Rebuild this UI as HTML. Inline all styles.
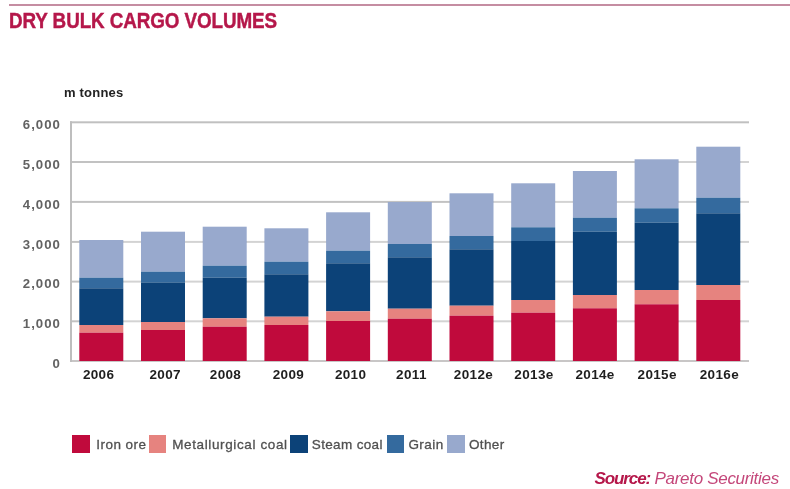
<!DOCTYPE html>
<html><head><meta charset="utf-8"><title>Dry bulk cargo volumes</title>
<style>
html,body{margin:0;padding:0;background:#fff;}
body{width:790px;height:489px;position:relative;overflow:hidden;font-family:"Liberation Sans",sans-serif;}
#w{position:absolute;left:0;top:0;width:790px;height:489px;filter:blur(0.7px);}
.a{position:absolute;}
.t{position:absolute;white-space:nowrap;line-height:1;}
</style></head><body><div id="w">

<div class="a" style="left:9px;top:4px;width:781px;height:2px;background:#c58da2"></div>
<div class="t" style="left:9.3px;top:10px;font-size:22px;font-weight:bold;color:#b5174a;letter-spacing:-0.1px;transform-origin:0 0;transform:scaleX(0.856);-webkit-text-stroke:0.45px #b5174a">DRY BULK CARGO VOLUMES</div>
<div class="t" style="left:64px;top:86px;font-size:13px;font-weight:bold;color:#222;letter-spacing:0.2px">m tonnes</div>
<svg class="a" style="left:0;top:0" width="790" height="489" viewBox="0 0 790 489" shape-rendering="geometricPrecision">
<rect x="70" y="121.3" width="679" height="2" fill="#c0c0c0"/>
<rect x="70" y="161.0" width="679" height="2" fill="#c2c2c2"/>
<rect x="678.6" y="160.0" width="17.7" height="4" fill="#fff" fill-opacity="0.28"/>
<rect x="740.3" y="160.0" width="10.7" height="4" fill="#fff" fill-opacity="0.28"/>
<rect x="70" y="200.9" width="679" height="2" fill="#c2c2c2"/>
<rect x="493.5" y="199.9" width="17.7" height="4" fill="#fff" fill-opacity="0.28"/>
<rect x="555.2" y="199.9" width="17.7" height="4" fill="#fff" fill-opacity="0.28"/>
<rect x="616.9" y="199.9" width="17.7" height="4" fill="#fff" fill-opacity="0.28"/>
<rect x="678.6" y="199.9" width="17.7" height="4" fill="#fff" fill-opacity="0.28"/>
<rect x="740.3" y="199.9" width="10.7" height="4" fill="#fff" fill-opacity="0.28"/>
<rect x="70" y="240.9" width="679" height="2" fill="#c2c2c2"/>
<rect x="123.3" y="239.9" width="17.7" height="4" fill="#fff" fill-opacity="0.28"/>
<rect x="185.0" y="239.9" width="17.7" height="4" fill="#fff" fill-opacity="0.28"/>
<rect x="246.7" y="239.9" width="17.7" height="4" fill="#fff" fill-opacity="0.28"/>
<rect x="308.4" y="239.9" width="17.7" height="4" fill="#fff" fill-opacity="0.28"/>
<rect x="370.1" y="239.9" width="17.7" height="4" fill="#fff" fill-opacity="0.28"/>
<rect x="431.8" y="239.9" width="17.7" height="4" fill="#fff" fill-opacity="0.28"/>
<rect x="493.5" y="239.9" width="17.7" height="4" fill="#fff" fill-opacity="0.28"/>
<rect x="555.2" y="239.9" width="17.7" height="4" fill="#fff" fill-opacity="0.28"/>
<rect x="616.9" y="239.9" width="17.7" height="4" fill="#fff" fill-opacity="0.28"/>
<rect x="678.6" y="239.9" width="17.7" height="4" fill="#fff" fill-opacity="0.28"/>
<rect x="740.3" y="239.9" width="10.7" height="4" fill="#fff" fill-opacity="0.28"/>
<rect x="70" y="280.6" width="679" height="2" fill="#c2c2c2"/>
<rect x="123.3" y="279.6" width="17.7" height="4" fill="#fff" fill-opacity="0.28"/>
<rect x="185.0" y="279.6" width="17.7" height="4" fill="#fff" fill-opacity="0.28"/>
<rect x="246.7" y="279.6" width="17.7" height="4" fill="#fff" fill-opacity="0.28"/>
<rect x="308.4" y="279.6" width="17.7" height="4" fill="#fff" fill-opacity="0.28"/>
<rect x="370.1" y="279.6" width="17.7" height="4" fill="#fff" fill-opacity="0.28"/>
<rect x="431.8" y="279.6" width="17.7" height="4" fill="#fff" fill-opacity="0.28"/>
<rect x="493.5" y="279.6" width="17.7" height="4" fill="#fff" fill-opacity="0.28"/>
<rect x="555.2" y="279.6" width="17.7" height="4" fill="#fff" fill-opacity="0.28"/>
<rect x="616.9" y="279.6" width="17.7" height="4" fill="#fff" fill-opacity="0.28"/>
<rect x="678.6" y="279.6" width="17.7" height="4" fill="#fff" fill-opacity="0.28"/>
<rect x="740.3" y="279.6" width="10.7" height="4" fill="#fff" fill-opacity="0.28"/>
<rect x="70" y="320.3" width="679" height="2" fill="#c2c2c2"/>
<rect x="123.3" y="319.3" width="17.7" height="4" fill="#fff" fill-opacity="0.28"/>
<rect x="185.0" y="319.3" width="17.7" height="4" fill="#fff" fill-opacity="0.28"/>
<rect x="246.7" y="319.3" width="17.7" height="4" fill="#fff" fill-opacity="0.28"/>
<rect x="308.4" y="319.3" width="17.7" height="4" fill="#fff" fill-opacity="0.28"/>
<rect x="370.1" y="319.3" width="17.7" height="4" fill="#fff" fill-opacity="0.28"/>
<rect x="431.8" y="319.3" width="17.7" height="4" fill="#fff" fill-opacity="0.28"/>
<rect x="493.5" y="319.3" width="17.7" height="4" fill="#fff" fill-opacity="0.28"/>
<rect x="555.2" y="319.3" width="17.7" height="4" fill="#fff" fill-opacity="0.28"/>
<rect x="616.9" y="319.3" width="17.7" height="4" fill="#fff" fill-opacity="0.28"/>
<rect x="678.6" y="319.3" width="17.7" height="4" fill="#fff" fill-opacity="0.28"/>
<rect x="740.3" y="319.3" width="10.7" height="4" fill="#fff" fill-opacity="0.28"/>
<rect x="70" y="360.0" width="679" height="2" fill="#c8c6c6"/>
<rect x="70" y="121.3" width="2" height="240.7" fill="#bebebe"/>
<rect x="79.3" y="240.0" width="44" height="37.7" fill="#98a9cd"/>
<rect x="79.3" y="277.7" width="44" height="10.6" fill="#346a9e"/>
<rect x="79.3" y="288.3" width="44" height="36.7" fill="#0c4278"/>
<rect x="79.3" y="325.0" width="44" height="7.7" fill="#e6837f"/>
<rect x="79.3" y="332.7" width="44" height="28.3" fill="#c00a3c"/>
<rect x="141.0" y="231.7" width="44" height="40.0" fill="#98a9cd"/>
<rect x="141.0" y="271.7" width="44" height="11.0" fill="#346a9e"/>
<rect x="141.0" y="282.7" width="44" height="39.3" fill="#0c4278"/>
<rect x="141.0" y="322.0" width="44" height="8.0" fill="#e6837f"/>
<rect x="141.0" y="330.0" width="44" height="31.0" fill="#c00a3c"/>
<rect x="202.7" y="226.7" width="44" height="39.0" fill="#98a9cd"/>
<rect x="202.7" y="265.7" width="44" height="12.0" fill="#346a9e"/>
<rect x="202.7" y="277.7" width="44" height="40.6" fill="#0c4278"/>
<rect x="202.7" y="318.3" width="44" height="8.4" fill="#e6837f"/>
<rect x="202.7" y="326.7" width="44" height="34.3" fill="#c00a3c"/>
<rect x="264.4" y="228.3" width="44" height="33.4" fill="#98a9cd"/>
<rect x="264.4" y="261.7" width="44" height="12.6" fill="#346a9e"/>
<rect x="264.4" y="274.3" width="44" height="42.4" fill="#0c4278"/>
<rect x="264.4" y="316.7" width="44" height="8.3" fill="#e6837f"/>
<rect x="264.4" y="325.0" width="44" height="36.0" fill="#c00a3c"/>
<rect x="326.1" y="212.3" width="44" height="38.4" fill="#98a9cd"/>
<rect x="326.1" y="250.7" width="44" height="12.6" fill="#346a9e"/>
<rect x="326.1" y="263.3" width="44" height="48.0" fill="#0c4278"/>
<rect x="326.1" y="311.3" width="44" height="9.7" fill="#e6837f"/>
<rect x="326.1" y="321.0" width="44" height="40.0" fill="#c00a3c"/>
<rect x="387.8" y="202.0" width="44" height="42.0" fill="#98a9cd"/>
<rect x="387.8" y="244.0" width="44" height="13.3" fill="#346a9e"/>
<rect x="387.8" y="257.3" width="44" height="51.4" fill="#0c4278"/>
<rect x="387.8" y="308.7" width="44" height="10.0" fill="#e6837f"/>
<rect x="387.8" y="318.7" width="44" height="42.3" fill="#c00a3c"/>
<rect x="449.5" y="193.3" width="44" height="42.7" fill="#98a9cd"/>
<rect x="449.5" y="236.0" width="44" height="13.3" fill="#346a9e"/>
<rect x="449.5" y="249.3" width="44" height="56.4" fill="#0c4278"/>
<rect x="449.5" y="305.7" width="44" height="10.0" fill="#e6837f"/>
<rect x="449.5" y="315.7" width="44" height="45.3" fill="#c00a3c"/>
<rect x="511.2" y="183.3" width="44" height="44.0" fill="#98a9cd"/>
<rect x="511.2" y="227.3" width="44" height="13.7" fill="#346a9e"/>
<rect x="511.2" y="241.0" width="44" height="59.0" fill="#0c4278"/>
<rect x="511.2" y="300.0" width="44" height="12.7" fill="#e6837f"/>
<rect x="511.2" y="312.7" width="44" height="48.3" fill="#c00a3c"/>
<rect x="572.9" y="171.0" width="44" height="46.7" fill="#98a9cd"/>
<rect x="572.9" y="217.7" width="44" height="14.0" fill="#346a9e"/>
<rect x="572.9" y="231.7" width="44" height="63.3" fill="#0c4278"/>
<rect x="572.9" y="295.0" width="44" height="13.3" fill="#e6837f"/>
<rect x="572.9" y="308.3" width="44" height="52.7" fill="#c00a3c"/>
<rect x="634.6" y="159.3" width="44" height="49.0" fill="#98a9cd"/>
<rect x="634.6" y="208.3" width="44" height="14.4" fill="#346a9e"/>
<rect x="634.6" y="222.7" width="44" height="67.3" fill="#0c4278"/>
<rect x="634.6" y="290.0" width="44" height="14.3" fill="#e6837f"/>
<rect x="634.6" y="304.3" width="44" height="56.7" fill="#c00a3c"/>
<rect x="696.3" y="146.7" width="44" height="51.0" fill="#98a9cd"/>
<rect x="696.3" y="197.7" width="44" height="15.6" fill="#346a9e"/>
<rect x="696.3" y="213.3" width="44" height="71.7" fill="#0c4278"/>
<rect x="696.3" y="285.0" width="44" height="15.0" fill="#e6837f"/>
<rect x="696.3" y="300.0" width="44" height="61.0" fill="#c00a3c"/>
</svg>
<div class="t" style="right:729.2px;top:118.0px;font-size:13.2px;font-weight:bold;color:#626262;letter-spacing:1.0px">6,000</div>
<div class="t" style="right:729.2px;top:157.7px;font-size:13.2px;font-weight:bold;color:#626262;letter-spacing:1.0px">5,000</div>
<div class="t" style="right:729.2px;top:197.6px;font-size:13.2px;font-weight:bold;color:#626262;letter-spacing:1.0px">4,000</div>
<div class="t" style="right:729.2px;top:237.6px;font-size:13.2px;font-weight:bold;color:#626262;letter-spacing:1.0px">3,000</div>
<div class="t" style="right:729.2px;top:277.3px;font-size:13.2px;font-weight:bold;color:#626262;letter-spacing:1.0px">2,000</div>
<div class="t" style="right:729.2px;top:317.0px;font-size:13.2px;font-weight:bold;color:#626262;letter-spacing:1.0px">1,000</div>
<div class="t" style="right:729.2px;top:356.7px;font-size:13.2px;font-weight:bold;color:#626262;letter-spacing:1.0px">0</div>
<div class="t" style="left:58.6px;width:80px;text-align:center;top:368.4px;font-size:13.5px;font-weight:bold;color:#1e1e1e;letter-spacing:0.35px">2006</div>
<div class="t" style="left:125.2px;width:80px;text-align:center;top:368.4px;font-size:13.5px;font-weight:bold;color:#1e1e1e;letter-spacing:0.35px">2007</div>
<div class="t" style="left:185.5px;width:80px;text-align:center;top:368.4px;font-size:13.5px;font-weight:bold;color:#1e1e1e;letter-spacing:0.35px">2008</div>
<div class="t" style="left:248.4px;width:80px;text-align:center;top:368.4px;font-size:13.5px;font-weight:bold;color:#1e1e1e;letter-spacing:0.35px">2009</div>
<div class="t" style="left:310.6px;width:80px;text-align:center;top:368.4px;font-size:13.5px;font-weight:bold;color:#1e1e1e;letter-spacing:0.35px">2010</div>
<div class="t" style="left:371.4px;width:80px;text-align:center;top:368.4px;font-size:13.5px;font-weight:bold;color:#1e1e1e;letter-spacing:0.35px">2011</div>
<div class="t" style="left:433.5px;width:80px;text-align:center;top:368.4px;font-size:13.5px;font-weight:bold;color:#1e1e1e;letter-spacing:0.35px">2012e</div>
<div class="t" style="left:494.0px;width:80px;text-align:center;top:368.4px;font-size:13.5px;font-weight:bold;color:#1e1e1e;letter-spacing:0.35px">2013e</div>
<div class="t" style="left:555.1px;width:80px;text-align:center;top:368.4px;font-size:13.5px;font-weight:bold;color:#1e1e1e;letter-spacing:0.35px">2014e</div>
<div class="t" style="left:617.2px;width:80px;text-align:center;top:368.4px;font-size:13.5px;font-weight:bold;color:#1e1e1e;letter-spacing:0.35px">2015e</div>
<div class="t" style="left:679.4px;width:80px;text-align:center;top:368.4px;font-size:13.5px;font-weight:bold;color:#1e1e1e;letter-spacing:0.35px">2016e</div>
<div class="a" style="left:71.7px;top:435px;width:18px;height:17.8px;background:#c00a3c"></div>
<div class="t" style="left:96.3px;top:437.6px;font-size:13.5px;color:#505050;-webkit-text-stroke:0.3px #505050;letter-spacing:0.45px">Iron ore</div>
<div class="a" style="left:149.3px;top:435px;width:17.2px;height:17.8px;background:#e6837f"></div>
<div class="t" style="left:172.2px;top:437.6px;font-size:13.5px;color:#505050;-webkit-text-stroke:0.3px #505050;letter-spacing:0.62px">Metallurgical coal</div>
<div class="a" style="left:290.4px;top:435px;width:17.6px;height:17.8px;background:#0c4278"></div>
<div class="t" style="left:311.8px;top:437.6px;font-size:13.5px;color:#505050;-webkit-text-stroke:0.3px #505050;letter-spacing:0.35px">Steam coal</div>
<div class="a" style="left:386.6px;top:435px;width:17.6px;height:17.8px;background:#346a9e"></div>
<div class="t" style="left:408.4px;top:437.6px;font-size:13.5px;color:#505050;-webkit-text-stroke:0.3px #505050;letter-spacing:0.45px">Grain</div>
<div class="a" style="left:447px;top:435px;width:18px;height:17.8px;background:#98a9cd"></div>
<div class="t" style="left:469.0px;top:437.6px;font-size:13.5px;color:#505050;-webkit-text-stroke:0.3px #505050;letter-spacing:0.35px">Other</div>
<div class="t" style="left:594.5px;top:470px;font-size:17px;font-style:italic;font-weight:bold;color:#b5174a;letter-spacing:-1.1px">Source:</div>
<div class="t" style="left:654.5px;top:470px;font-size:17px;font-style:italic;color:#c4477a;letter-spacing:-0.3px">Pareto Securities</div>
</div></body></html>
